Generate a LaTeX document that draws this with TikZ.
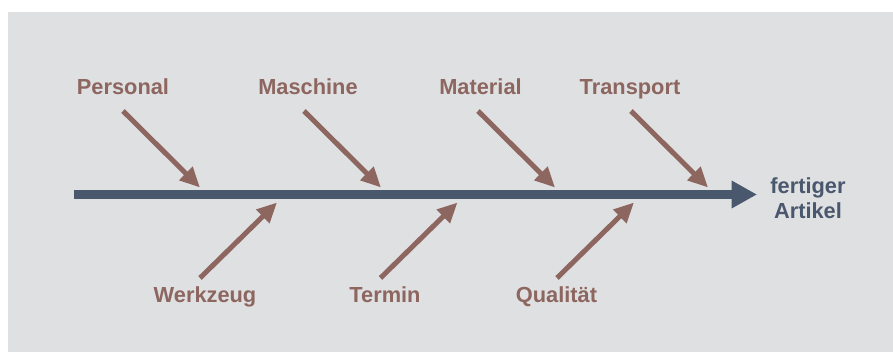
\documentclass[tikz,border=0pt]{standalone}
\usepackage{fontspec}
\setmainfont{Liberation Sans}
\usetikzlibrary{arrows.meta, positioning}
\definecolor{bggray}{HTML}{DFE0E2}
\definecolor{causebrown}{HTML}{8D6660}
\definecolor{spineblue}{HTML}{4A586E}
\tikzset{
   spine/.style={draw=spineblue, line width=6.75pt, -{Triangle[length=19pt,width=19.5pt]}},
   cause/.style={draw=causebrown, line width=3.75pt, -{Triangle[length=15pt,width=13.5pt]}},
   causelabel/.style={text=causebrown, font=\fontsize{16.35}{19}\selectfont\bfseries, anchor=base, inner sep=0pt},
   effect/.style={text=spineblue, font=\fontsize{16.35}{18.75}\selectfont\bfseries, align=center, inner sep=0pt}
}

\begin{document}
\begin{tikzpicture}[x=0.75pt, y=-0.75pt]
      \useasboundingbox (0,0) rectangle (893,352);
      \fill[bggray] (8,12) rectangle (893,352);

      % main line and result
      \coordinate (tail) at (74,194.5);
      \coordinate (head) at (757,194.5);
      \draw[spine] (tail) -- (head);
      \node[effect] (artikel) at (808,198) {fertiger\\Artikel};

      % causes above the line
      \foreach \name/\txt/\lx/\tx in {personal/Personal/123/200, maschine/Maschine/308/381,
                                     material/Material/480.5/555, transport/Transport/630/708} {
        \coordinate (\name-tip) at (\tx,187.5);
        \coordinate (\name-start) at (\tx-77,111);
        \node[causelabel] (\name) at (\lx,94.3) {\txt};
        \draw[cause] (\name-start) -- (\name-tip);
      }

      % causes below the line
      \foreach \name/\txt/\lx/\tx in {werkzeug/Werkzeug/205/277, termin/Termin/385/457.5,
                                     qualitaet/Qualität/556.5/634} {
        \coordinate (\name-tip) at (\tx,202.5);
        \coordinate (\name-start) at (\tx-77,278);
        \node[causelabel] (\name) at (\lx,302.7) {\txt};
        \draw[cause] (\name-start) -- (\name-tip);
      }
\end{tikzpicture}
\end{document}
